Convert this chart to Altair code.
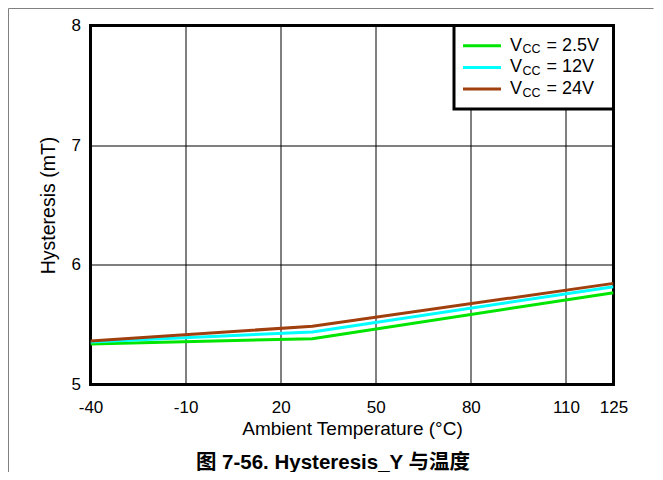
import altair as alt
import pandas as pd

# ---- data ----
temps = [-40, 30, 125]
vcc_25 = [5.338, 5.383, 5.767]
vcc_12 = [5.355, 5.439, 5.817]
vcc_24 = [5.363, 5.487, 5.845]
series_names = ["VCC = 2.5V", "VCC = 12V", "VCC = 24V"]
legend_values = ["2.5V", "12V", "24V"]
colors = ["#00E600", "#00FFFF", "#A0400F"]
x_ticks = [-40, -10, 20, 50, 80, 110, 125]
y_ticks = [5, 6, 7, 8]

rows = []
for name, vals in zip(series_names, [vcc_25, vcc_12, vcc_24]):
    for t, v in zip(temps, vals):
        rows.append({"Temperature": t, "Hysteresis": v, "Series": name})
df = pd.DataFrame(rows)

W, H = 523, 359
FONT = "Liberation Sans, Noto Sans CJK SC"
one = alt.Data(values=[{}])

lines = alt.Chart(df).mark_line(strokeWidth=3, clip=True).encode(
    x=alt.X("Temperature:Q",
            scale=alt.Scale(domain=[-40, 125], nice=False, zero=False),
            axis=alt.Axis(values=x_ticks, labelExpr="'' + datum.value", title="Ambient Temperature (°C)",
                          grid=True, gridColor="black", gridWidth=1, gridOpacity=1,
                          ticks=False, domain=False, labelFlush=False,
                          labelFontSize=17, labelPadding=15, labelColor="black",
                          titleFontSize=19, titleFontWeight="normal", titleColor="black",
                          titleX=W / 2, titleY=43.5, titleBaseline="middle")),
    y=alt.Y("Hysteresis:Q",
            scale=alt.Scale(domain=[5, 8], nice=False, zero=False),
            axis=alt.Axis(values=y_ticks, labelExpr="'' + datum.value", title="Hysteresis (mT)",
                          grid=True, gridColor="black", gridWidth=1, gridOpacity=1,
                          ticks=False, domain=False, labelFlush=False,
                          labelFontSize=17, labelPadding=10, labelColor="black",
                          titleFontSize=19.5, titleFontWeight="normal", titleColor="black",
                          titleX=-42.5, titleY=H / 2, titleBaseline="middle")),
    color=alt.Color("Series:N", scale=alt.Scale(domain=series_names, range=colors), legend=None),
)

layers = [lines]

# legend box
layers.append(alt.Chart(one).mark_rect(fill="white", stroke="black", strokeWidth=3).encode(
    x=alt.value(363.5), x2=alt.value(W), y=alt.value(0), y2=alt.value(83.5)))

for i, (val, col) in enumerate(zip(legend_values, colors)):
    ly = 20.2 + 21.7 * i
    by = 25.2 + 21.7 * i
    layers.append(alt.Chart(one).mark_rule(stroke=col, strokeWidth=3).encode(
        x=alt.value(372.5), x2=alt.value(410.5), y=alt.value(ly)))
    layers.append(alt.Chart(one).mark_text(text="V", fontSize=18, align="left",
                                           baseline="alphabetic", color="black").encode(
        x=alt.value(419.5), y=alt.value(by)))
    layers.append(alt.Chart(one).mark_text(text="CC", fontSize=12.5, align="left",
                                           baseline="alphabetic", color="black").encode(
        x=alt.value(432), y=alt.value(by + 2.6)))
    layers.append(alt.Chart(one).mark_text(text="= " + val, fontSize=18, align="left",
                                           baseline="alphabetic", color="black").encode(
        x=alt.value(456), y=alt.value(by)))

# caption
layers.append(alt.Chart(one).mark_text(text="图 7-56. Hysteresis_Y 与温度", fontSize=20.5,
                                       fontWeight="bold", align="center", baseline="middle",
                                       color="black").encode(
    x=alt.value(242.5), y=alt.value(437.5)))

# outer frame lines (gray)
layers.append(alt.Chart(one).mark_rule(stroke="#808080", strokeWidth=1).encode(
    x=alt.value(-82), x2=alt.value(W + 40), y=alt.value(-17)))
layers.append(alt.Chart(one).mark_rule(stroke="#808080", strokeWidth=1).encode(
    x=alt.value(-82), y=alt.value(-17), y2=alt.value(455)))

chart = alt.layer(*layers).properties(
    width=W, height=H,
    autosize=alt.AutoSizeParams(type="none"),
    padding={"left": 82.5, "top": 17.5, "right": 40, "bottom": 87},
).configure(font=FONT).configure_view(stroke="black", strokeWidth=3)

chart.save("out.html", embed_options={"renderer": "svg", "actions": False})
